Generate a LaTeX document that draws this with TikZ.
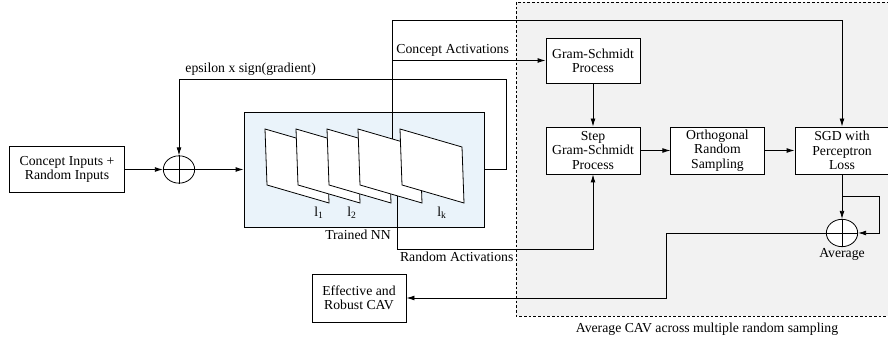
\documentclass[tikz,border=0pt]{standalone}
\usepackage{fontspec}
\setmainfont{Liberation Serif}
\usepackage{tikz}
\usetikzlibrary{calc,shapes,arrows.meta}
\definecolor{nnblue}{RGB}{234,243,250}
\definecolor{cavgray}{RGB}{242,242,242}
\newcommand{\tikzSumNode}[2]{
  \node[draw,ellipse,fill=white,inner sep=0pt,minimum width=23.5pt,minimum height=20.5pt] (#1) at (#2) {};
  \path[draw,-] (#1.north) -- (#1.south) (#1.west) -- (#1.east);
}
\newcommand{\tikzLayerNode}[2]{
  \coordinate (#1) at (#2);
  \path[draw,-,fill=white] (#1) -- ++(6.2,1.8) -- ++(0.2,5.6) -- ++(-6.2,-1.8) -- cycle;
}
\begin{document}
\begin{tikzpicture}[semithick, ->, >={Latex[length=6pt,width=3.6pt]}, x=7.5pt, y=-7.5pt,
  font=\fontsize{10.3}{10.7}\selectfont,
  box/.style={draw,rectangle,fill=white,align=center,inner sep=1pt}]
  \useasboundingbox (0,0) rectangle (88.8,34.1);
  % averaging region
  \path[draw,-,dash pattern=on 2pt off 1.5pt,fill=cavgray] (51.6,0.2) rectangle (89.5,31.6);
  \node [inner sep=0pt] (avglabel) at (70.7,32.9) {Average CAV across multiple random sampling};
  % network
  \node [draw,rectangle,fill=nnblue,minimum width=180pt,minimum height=86.25pt] (nn) at (36.4,16.95) {};
  \node [below,inner sep=1.5pt,xshift=-4.5pt] (nnlabel) at (nn.south) {Trained NN};
  \tikzLayerNode{l1}{26.5,12.9}
  \tikzLayerNode{l2}{29.6,12.9}
  \tikzLayerNode{l3}{32.7,12.9}
  \tikzLayerNode{l4}{35.8,12.9}
  \tikzLayerNode{lk}{40.0,12.9}
  \node [inner sep=0pt] (t1) at (31.9,21.3) {l\textsubscript{1}};
  \node [inner sep=0pt] (t2) at (35.2,21.3) {l\textsubscript{2}};
  \node [inner sep=0pt] (tk) at (44.2,21.3) {l\textsubscript{k}};
  % boxes
  \node [box,minimum width=86pt,minimum height=34pt] (inp) at (6.7,16.95) {Concept Inputs +\\Random Inputs};
  \tikzSumNode{sum}{17.9,16.95}
  \node [box,minimum width=70.5pt,minimum height=33.75pt] (gs) at (59.3,6.05) {Gram-Schmidt\\Process};
  \node [box,minimum width=70.5pt,minimum height=35.25pt] (sgs) at (59.3,15.05) {Step\\Gram-Schmidt\\Process};
  \node [box,minimum width=70pt,minimum height=35.25pt] (ors) at (71.75,15.05) {Orthogonal\\Random\\Sampling};
  \node [box,minimum width=70.5pt,minimum height=35.25pt] (sgd) at (84.2,15.05) {SGD with\\Perceptron\\Loss};
  \tikzSumNode{avg}{84.2,23.3}
  \node [below,inner sep=0.5pt] (avgtext) at (avg.south) {Average};
  \node [box,minimum width=70.5pt,minimum height=36pt] (cav) at (35.9,29.8) {Effective and\\Robust CAV};
  % connectors
  \path (inp) edge (sum);
  \path (sum) edge (nn.west);
  \draw (nn.east) -- (50.6,16.95) |- (17.9,7.9) node [above right,inner sep=2pt,xshift=2.5pt] {epsilon x sign(gradient)} -- (sum.north);
  \coordinate (ca) at (39.2,13.9);
  \coordinate (ct) at (39.2,2.0);
  \draw (ca) -- (ct) -| (sgd.north);
  \draw (ca) |- node [pos=0.5,above right,inner sep=3pt] {Concept Activations} (gs.west);
  \coordinate (ra) at (39.7,19.6);
  \draw (ra) -- (39.7,24.9) node [below right,inner sep=2pt] {Random Activations} -| (sgs.south);
  \path (gs) edge (sgs);
  \path (sgs) edge (ors);
  \path (ors) edge (sgd);
  \path (sgd) edge (avg);
  \draw (84.2,19.6) -- (87.9,19.6) |- (avg.east);
  \draw (avg.west) -| (66.6,29.8) -- (cav.east);
\end{tikzpicture}
\end{document}
